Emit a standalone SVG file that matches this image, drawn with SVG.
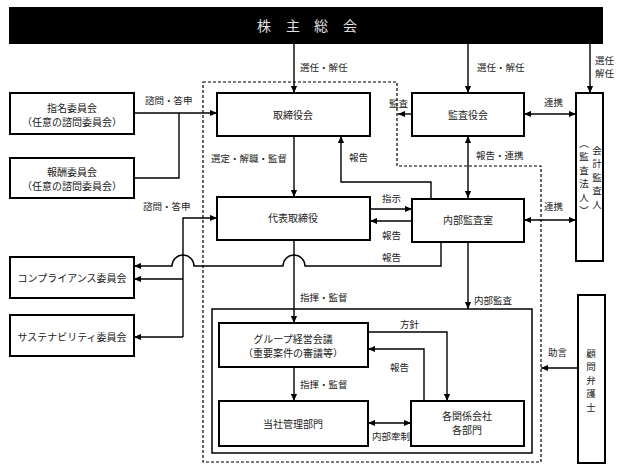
<svg xmlns="http://www.w3.org/2000/svg" width="624" height="472" viewBox="0 0 624 472">
<style>
text{font-family:"Noto Sans CJK JP","Noto Sans",sans-serif;fill:#222}
.box{fill:#fff;stroke:#000;stroke-width:2}
.bt{font-size:10px;text-anchor:middle}
.lb{font-size:9.5px}
.c{fill:none;stroke:#000;stroke-width:1.4}
.a{marker-end:url(#ah)}
.d{marker-start:url(#ah);marker-end:url(#ah)}
.vt{font-size:9.5px;text-anchor:middle}
</style>
<defs>
<marker id="ah" viewBox="0 0 8 8" refX="8" refY="4" markerWidth="7" markerHeight="7" markerUnits="userSpaceOnUse" orient="auto-start-reverse">
<path d="M0,0.5 L8,4 L0,7.5 z" fill="#000"/>
</marker>
</defs>
<rect width="624" height="472" fill="#fff"/>

<g id="frames">
<path d="M203,82 H397 V166 H541 V462 H203 Z" fill="none" stroke="#000" stroke-width="1.2" stroke-dasharray="3,2"/>
<rect x="212" y="309" width="320" height="144" fill="none" stroke="#000" stroke-width="1.5"/>
</g>

<g id="shareholders">
<rect x="9" y="7" width="594" height="37" fill="#000"/>
<text font-size="14" text-anchor="middle" style="fill:#e0e0e0"><tspan x="264" y="31">株</tspan><tspan x="293" y="31">主</tspan><tspan x="321" y="31">総</tspan><tspan x="350" y="31">会</tspan></text>
</g>

<g id="connectors">
<path class="c a" d="M294,44 V93"/>
<path class="c a" d="M468,44 V93"/>
<path class="c a" d="M590,44 V93"/>
<path class="c a" d="M134,113 H217"/>
<path class="c" d="M134,178 H179 V113"/>
<path class="c a" d="M294,136 V197"/>
<path class="c a" d="M431,198 V182 H341 V136"/>
<path class="c a" d="M412,114 H398"/>
<path class="c d" d="M524,114 H576"/>
<path class="c d" d="M468,136 V198"/>
<path class="c a" d="M370,209 H412"/>
<path class="c a" d="M412,221 H370"/>
<path class="c d" d="M524,220 H576"/>
<path class="c a" d="M441,242 V266 H305 A11,11 0 0 0 283,266 H194 A11,11 0 0 0 172,266 H134"/>
<path class="c a" d="M183,337 V218 H217"/>
<path class="c a" d="M183,279 H134"/>
<path class="c a" d="M183,337 H134"/>
<path class="c a" d="M468,242 V309"/>
<path class="c a" d="M294,240 V323"/>
<path class="c a" d="M294,367 V401"/>
<path class="c a" d="M368,332 H447 V401"/>
<path class="c a" d="M424,401 V349 H368"/>
<path class="c d" d="M368,423 H411"/>
<path class="c a" d="M578,368 H541"/>
</g>

<g id="labels">
<text class="lb" x="300" y="71">選任・解任</text>
<text class="lb" x="477" y="71">選任・解任</text>
<text class="lb" x="595" y="64">選任</text>
<text class="lb" x="595" y="77">解任</text>
<text class="lb" x="145" y="104">諮問・答申</text>
<text class="lb" x="211" y="162">選定・解職・監督</text>
<text class="lb" x="349" y="161">報告</text>
<text class="lb" x="389" y="107">監査</text>
<text class="lb" x="544" y="106">連携</text>
<text class="lb" x="476" y="159">報告・連携</text>
<text class="lb" x="143" y="210">諮問・答申</text>
<text class="lb" x="382" y="202">指示</text>
<text class="lb" x="382" y="239">報告</text>
<text class="lb" x="382" y="261">報告</text>
<text class="lb" x="544" y="210">連携</text>
<text class="lb" x="300" y="301">指揮・監督</text>
<text class="lb" x="474" y="304">内部監査</text>
<text class="lb" x="400" y="328">方針</text>
<text class="lb" x="390" y="371">報告</text>
<text class="lb" x="300" y="388">指揮・監督</text>
<text class="lb" x="372" y="440">内部牽制</text>
<text class="lb" x="548" y="356">助言</text>
</g>

<g id="nomination">
<rect class="box" x="10" y="93" width="124" height="41"/>
<text class="bt" x="72" y="112">指名委員会</text>
<text class="bt" x="72" y="126">（任意の諮問委員会）</text>
</g>
<g id="compensation">
<rect class="box" x="10" y="158" width="124" height="40"/>
<text class="bt" x="72" y="176">報酬委員会</text>
<text class="bt" x="72" y="190">（任意の諮問委員会）</text>
</g>
<g id="compliance">
<rect class="box" x="10" y="257" width="124" height="41"/>
<text class="bt" x="72" y="282">コンプライアンス委員会</text>
</g>
<g id="sustainability">
<rect class="box" x="10" y="315" width="124" height="41"/>
<text class="bt" x="72" y="341">サステナビリティ委員会</text>
</g>
<g id="board">
<rect class="box" x="217" y="93" width="153" height="43"/>
<text class="bt" x="293" y="119">取締役会</text>
</g>
<g id="auditboard">
<rect class="box" x="412" y="93" width="112" height="43"/>
<text class="bt" x="468" y="119">監査役会</text>
</g>
<g id="accountingauditor">
<rect class="box" x="576" y="93" width="27" height="168"/>
<text class="vt"><tspan x="597" y="153.6">会</tspan><tspan x="597" y="167.1">計</tspan><tspan x="597" y="180.6">監</tspan><tspan x="597" y="194.1">査</tspan><tspan x="597" y="207.6">人</tspan></text>
<text class="vt"><tspan x="584" y="146.9">︵</tspan><tspan x="584" y="160.4">監</tspan><tspan x="584" y="173.9">査</tspan><tspan x="584" y="187.4">法</tspan><tspan x="584" y="200.9">人</tspan><tspan x="584" y="214.4">︶</tspan></text>
</g>
<g id="representative">
<rect class="box" x="217" y="197" width="153" height="43"/>
<text class="bt" x="293" y="222">代表取締役</text>
</g>
<g id="internalaudit">
<rect class="box" x="412" y="199" width="112" height="43"/>
<text class="bt" x="468" y="224">内部監査室</text>
</g>
<g id="groupmeeting">
<rect class="box" x="219" y="323" width="149" height="44"/>
<text class="bt" x="293" y="343">グループ経営会議</text>
<text class="bt" x="293" y="357">（重要案件の審議等）</text>
</g>
<g id="management">
<rect class="box" x="219" y="401" width="149" height="45"/>
<text class="bt" x="293" y="428">当社管理部門</text>
</g>
<g id="affiliates">
<rect class="box" x="411" y="401" width="113" height="45"/>
<text class="bt" x="467" y="420">各関係会社</text>
<text class="bt" x="467" y="434">各部門</text>
</g>
<g id="lawyer">
<rect class="box" x="578" y="295" width="27" height="168"/>
<text class="vt"><tspan x="591" y="356.6">顧</tspan><tspan x="591" y="370.1">問</tspan><tspan x="591" y="383.6">弁</tspan><tspan x="591" y="397.1">護</tspan><tspan x="591" y="410.6">士</tspan></text>
</g>
</svg>
